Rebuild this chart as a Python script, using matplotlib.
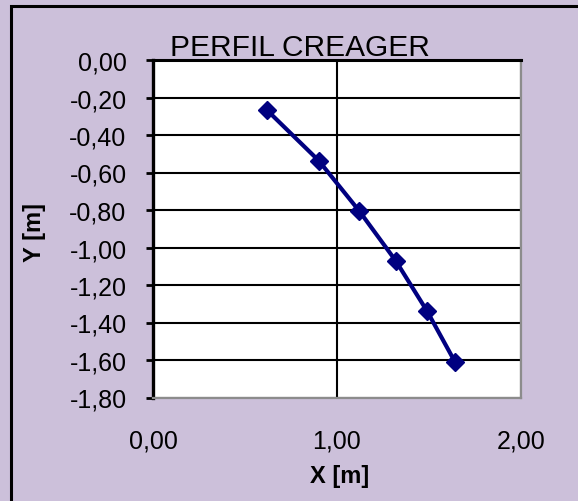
import matplotlib
matplotlib.use("Agg")
import matplotlib.pyplot as plt
from matplotlib.patches import Rectangle
from matplotlib.ticker import FuncFormatter, MultipleLocator

# Creager profile coordinates
x_m = [0.62, 0.90, 1.12, 1.32, 1.49, 1.64]
y_m = [-0.268, -0.536, -0.804, -1.072, -1.340, -1.608]

title = "PERFIL CREAGER"
x_label = "X [m]"
y_label = "Y [m]"

plt.rcParams["font.family"] = ["Liberation Sans", "DejaVu Sans"]

W, H = 578, 502
fig = plt.figure(figsize=(W / 100, H / 100), dpi=100)
fig.patch.set_facecolor("#ccc0da")

# outer chart border (only top and left edges fall inside the picture)
fig.patches.append(Rectangle((10.5 / W, -0.2), 1.5, 1 - 6.5 / H + 0.2,
                             transform=fig.transFigure, fill=False,
                             edgecolor="black", lw=2.2, zorder=0))

ax = fig.add_axes([153 / W, (H - 398.5) / H, 368 / W, 337.5 / H])
ax.set_facecolor("white")

ax.plot(x_m, y_m, color="#000080", lw=3, marker="D", ms=9.5,
        mfc="#000080", mec="#000080", zorder=3, clip_on=False)

ax.set_xlim(0, 2)
ax.set_ylim(-1.8, 0)
ax.xaxis.set_major_locator(MultipleLocator(1.0))
ax.yaxis.set_major_locator(MultipleLocator(0.2))

fmt = FuncFormatter(lambda v, _: f"{abs(v) if abs(v) < 1e-9 else v:.2f}".replace(".", ","))
ax.xaxis.set_major_formatter(fmt)
ax.yaxis.set_major_formatter(fmt)

ax.grid(True, color="black", lw=1.5)
ax.set_axisbelow(True)

ax.tick_params(axis="y", direction="out", length=5, width=2, color="black",
               labelsize=18, pad=14)
ax.tick_params(axis="x", length=0, labelsize=18, pad=22)

ax.spines["left"].set_color("black")
ax.spines["left"].set_linewidth(2.4)
ax.spines["top"].set_color("black")
ax.spines["top"].set_linewidth(2.2)
ax.spines["right"].set_color("#8c8c8c")
ax.spines["right"].set_linewidth(1.6)
ax.spines["bottom"].set_color("#8c8c8c")
ax.spines["bottom"].set_linewidth(1.6)

fig.text(300 / W, 1 - 56 / H, title, ha="center", va="baseline", fontsize=21.5)
fig.text(340 / W, 1 - 477 / H, x_label, ha="center", va="center",
         fontsize=17, fontweight="bold")
fig.text(34 / W, 1 - 233 / H, y_label, ha="center", va="center",
         rotation=90, fontsize=17, fontweight="bold")

fig.savefig("out.png", dpi=100, facecolor=fig.get_facecolor())
